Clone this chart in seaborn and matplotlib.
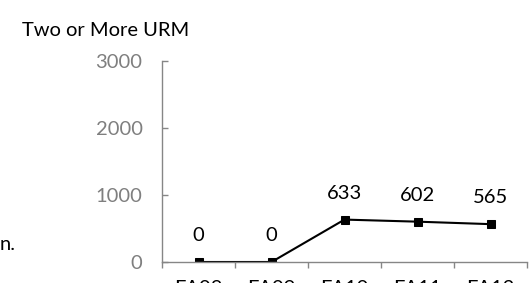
import matplotlib
matplotlib.use("Agg")
import matplotlib.pyplot as plt
import seaborn as sns
import pandas as pd

# chart data
terms = ["FA08", "FA09", "FA10", "FA11", "FA12"]
counts = [0, 0, 633, 602, 565]
title = "Two or More URM"

sns.set_style("white")
plt.rcParams['font.family'] = ['Lato', 'DejaVu Sans']

df = pd.DataFrame({"term": terms, "count": counts})

fig = plt.figure(figsize=(5.29, 2.83), dpi=100)
ax = fig.add_axes([162 / 529, 21 / 283, 365 / 529, 201 / 283])

sns.lineplot(data=df, x="term", y="count", ax=ax, color="black", linewidth=1.5,
             marker="s", markersize=6, markeredgecolor="black", sort=False)

# value labels above the points
for i, v in enumerate(counts):
    ax.annotate(str(v), (i, v), xytext=(0, 19), textcoords="offset points",
                ha="center", va="center", fontsize=14.5, color="black")

ax.set_xlim(-0.5, len(terms) - 0.5)
ax.set_ylim(0, 3000)
ax.set_yticks([0, 1000, 2000, 3000])
ax.set_xlabel("")
ax.set_ylabel("")

# excel style ticks between categories
ax.set_xticks([i - 0.5 for i in range(len(terms) + 1)], minor=True)
ax.tick_params(axis="x", which="minor", length=4, width=1, color="#868686", direction="out", bottom=True)
ax.tick_params(axis="x", which="major", length=0, pad=13, labelsize=14.5, labelcolor="black")
ax.tick_params(axis="y", length=4, width=1, color="#868686", direction="in", left=True,
               pad=14, labelsize=14.5, labelcolor="#7f7f7f")

for side in ["top", "right"]:
    ax.spines[side].set_visible(False)
for side in ["left", "bottom"]:
    ax.spines[side].set_color("#868686")
    ax.spines[side].set_linewidth(1)

fig.text(22 / 529, 1 - 30 / 283, title, fontsize=14.5, color="black", va="center", ha="left")
fig.text(0, 1 - 244 / 283, "n.", fontsize=14.5, color="black", va="center", ha="left")

fig.savefig("out.png", dpi=100)
